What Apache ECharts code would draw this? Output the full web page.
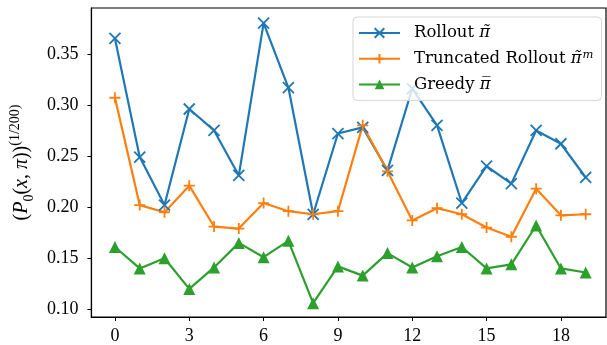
<!DOCTYPE html>
<html><head><meta charset="utf-8">
<script src="https://cdn.jsdelivr.net/npm/echarts@6/dist/echarts.min.js"></script>
<style>html,body{margin:0;padding:0;background:#fff}#c{width:607px;height:345px}</style>
</head><body><div id="c"></div>
<script>
const xs = [0,1,2,3,4,5,6,7,8,9,10,11,12,13,14,15,16,17,18,19];
const rollout = [0.365,0.249,0.202,0.296,0.275,0.231,0.380,0.317,0.193,0.272,0.278,0.236,0.316,0.280,0.204,0.240,0.223,0.275,0.262,0.229];
const truncated = [0.307,0.202,0.195,0.221,0.181,0.179,0.204,0.196,0.193,0.196,0.280,0.235,0.187,0.199,0.193,0.180,0.171,0.218,0.192,0.193];
const greedy = [0.161,0.140,0.150,0.120,0.141,0.165,0.151,0.167,0.106,0.142,0.133,0.155,0.141,0.152,0.161,0.140,0.144,0.182,0.140,0.136];
const xTicks = [0,3,6,9,12,15,18];
const yTicks = [0.10,0.15,0.20,0.25,0.30,0.35];
const names = ['Rollout π\u0303', 'Truncated Rollout π\u0303m', 'Greedy π\u0305'];
const legendRich = {
  'Rollout π\u0303': '{t|Rollout }{g|π\u0303}',
  'Truncated Rollout π\u0303m': '{t|Truncated Rollout }{g|π\u0303}{s|m}',
  'Greedy π\u0305': '{t|Greedy }{g|π\u0305}'
};

const FONT = 'Liberation Serif';
const LFONT = 'DejaVu Serif';
const pts = arr => xs.map((x,i)=>[x, arr[i]]);
const X_PATH = 'path://M0,0L10,10M10,0L0,10';
const PLUS_PATH = 'path://M5,0L5,10M0,5L10,5';

const chart = echarts.init(document.getElementById('c'), null, {renderer:'canvas'});
const mk = (name, data, color, symbol, size, fillSymbol) => ({
  name, type:'line', data, symbol, symbolSize: size,
  lineStyle:{color, width:2.2},
  itemStyle:{color: color, borderColor: color, borderWidth: fillSymbol ? 0 : 1.8},
  emphasis:{disabled:true}, animation:false
});
chart.setOption({
  animation:false,
  grid:{left:89, right:1, top:8, bottom:28, show:true, borderColor:'#000', borderWidth:1.2, backgroundColor:'transparent'},
  legend:{
    orient:'vertical', left:353, top:17,
    padding:[6,8,6,5], itemGap:5.7, itemWidth:41, itemHeight:12,
    backgroundColor:'rgba(255,255,255,0.8)', borderColor:'#d6d6d6', borderWidth:1, borderRadius:4,
    textStyle:{fontFamily:LFONT, fontSize:16.5, color:'#000', lineHeight:20, padding:[0,0,0,9],
      rich:{
        t:{fontFamily:LFONT, fontSize:16.5, color:'#000', lineHeight:20},
        g:{fontFamily:LFONT, fontSize:16.5, fontStyle:'italic', color:'#000', lineHeight:20},
        s:{fontFamily:LFONT, fontSize:11.5, fontStyle:'italic', color:'#000', lineHeight:20, verticalAlign:'top', padding:[0,0,6,1]}
      }},
    formatter: n => legendRich[n],
    data: names
  },
  xAxis:{
    type:'value', min:-0.95, max:19.82,
    axisLine:{show:true, onZero:false, lineStyle:{color:'#000', width:1.2}},
    axisTick:{show:true, length:4, lineStyle:{color:'#000'}, customValues:xTicks},
    axisLabel:{fontFamily:FONT, fontSize:18, color:'#000', margin:10, customValues:xTicks, formatter:v=>String(v)},
    splitLine:{show:false}
  },
  yAxis:{
    type:'value', min:0.0925, max:0.3948,
    axisLine:{show:true, onZero:false, lineStyle:{color:'#000', width:1.2}},
    axisTick:{show:true, length:4, lineStyle:{color:'#000'}, customValues:yTicks},
    axisLabel:{fontFamily:FONT, fontSize:18, color:'#000', margin:13, customValues:yTicks, formatter:v=>v.toFixed(2)},
    splitLine:{show:false},
    name:'{p|(}{i|P}{sub|0}{p|(}{i|x}{p|, }{i|π}{p|))}{sup|(1/200)}',
    nameLocation:'middle', nameGap:55,
    nameTextStyle:{
      fontFamily:FONT, fontSize:18, color:'#000',
      rich:{
        p:{fontFamily:FONT, fontSize:20, color:'#000', lineHeight:28, verticalAlign:'middle'},
        i:{fontFamily:FONT, fontSize:20, fontStyle:'italic', color:'#000', lineHeight:28, verticalAlign:'middle'},
        sub:{fontFamily:FONT, fontSize:14, color:'#000', lineHeight:28, verticalAlign:'bottom'},
        sup:{fontFamily:FONT, fontSize:14, color:'#000', lineHeight:28, verticalAlign:'top'}
      }
    }
  },
  series:[
    mk(names[0], pts(rollout), '#1f77b4', X_PATH, 11, false),
    mk(names[1], pts(truncated), '#ff7f0e', PLUS_PATH, 11, false),
    mk(names[2], pts(greedy), '#2ca02c', 'triangle', 12, true)
  ]
});
</script></body></html>
